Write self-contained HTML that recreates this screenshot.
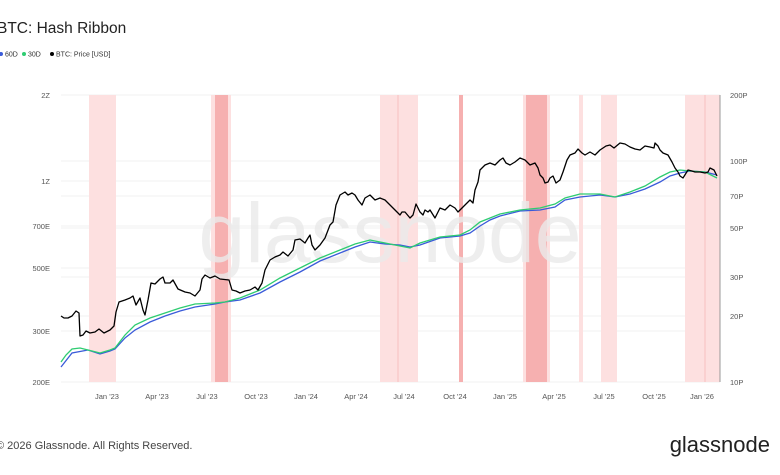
<!DOCTYPE html>
<html><head><meta charset="utf-8"><style>
body{margin:0;width:780px;height:470px;background:#fff;overflow:hidden;font-family:"Liberation Sans",sans-serif}
</style></head><body>
<svg width="780" height="470" xmlns="http://www.w3.org/2000/svg" font-family="Liberation Sans, sans-serif">
<text x="-3" y="33" font-size="15.5" fill="#222">BTC: Hash Ribbon</text>
<g font-size="7" fill="#333">
<circle cx="1" cy="54" r="2" fill="#3a5bd9"/><text x="5" y="56.5">60D</text>
<circle cx="24" cy="54" r="2" fill="#2ecc71"/><text x="28" y="56.5">30D</text>
<circle cx="52" cy="54" r="2" fill="#000"/><text x="56" y="56.5">BTC: Price [USD]</text>
</g>
<g stroke="#f0f0f0" stroke-width="1">
<line x1="61" x2="720" y1="95" y2="95"/><line x1="61" x2="720" y1="161" y2="161"/><line x1="61" x2="720" y1="181" y2="181"/><line x1="61" x2="720" y1="196" y2="196"/><line x1="61" x2="720" y1="226" y2="226"/><line x1="61" x2="720" y1="228" y2="228"/><line x1="61" x2="720" y1="268" y2="268"/><line x1="61" x2="720" y1="277" y2="277"/><line x1="61" x2="720" y1="316" y2="316"/><line x1="61" x2="720" y1="331" y2="331"/><line x1="61" x2="720" y1="382" y2="382"/>
</g>
<g fill="#fde0e0">
<rect x="89" y="95" width="27" height="287"/>
<rect x="380" y="95" width="38" height="287"/>
<rect x="523" y="95" width="27" height="287"/>
<rect x="579" y="95" width="4" height="287"/>
<rect x="601" y="95" width="16" height="287"/>
<rect x="685" y="95" width="35" height="287"/>
<rect x="211" y="95" width="20" height="287"/>
</g>
<g fill="#f6b0b0">
<rect x="215" y="95" width="13" height="287"/>
<rect x="459" y="95" width="4" height="287"/>
<rect x="526" y="95" width="21" height="287"/>
</g>
<g stroke="#f4b8b8" stroke-width="0.8"><line x1="398" x2="398" y1="95" y2="382"/><line x1="705" x2="705" y1="95" y2="382"/></g>
<text x="390" y="262" font-size="84" fill="#ebebeb" text-anchor="middle" opacity="0.8">glassnode</text>
<line x1="720" x2="720" y1="95" y2="382" stroke="#999" stroke-width="1"/>
<g font-size="7.5" fill="#555" text-anchor="end">
<text x="50" y="98">2Z</text><text x="50" y="184">1Z</text><text x="50" y="229">700E</text><text x="50" y="271">500E</text><text x="50" y="334">300E</text><text x="50" y="385">200E</text>
</g>
<g font-size="7.5" fill="#555">
<text x="730" y="98">200P</text><text x="730" y="164">100P</text><text x="730" y="199">70P</text><text x="730" y="231">50P</text><text x="730" y="280">30P</text><text x="730" y="319">20P</text><text x="730" y="385">10P</text>
</g>
<g font-size="7.5" fill="#555" text-anchor="middle">
<text x="107" y="399">Jan '23</text><text x="157" y="399">Apr '23</text><text x="207" y="399">Jul '23</text><text x="256" y="399">Oct '23</text><text x="306" y="399">Jan '24</text><text x="356" y="399">Apr '24</text><text x="404" y="399">Jul '24</text><text x="455" y="399">Oct '24</text><text x="505" y="399">Jan '25</text><text x="554" y="399">Apr '25</text><text x="604" y="399">Jul '25</text><text x="654" y="399">Oct '25</text><text x="702" y="399">Jan '26</text>
</g>
<polyline fill="none" stroke="#3a5bd9" stroke-width="1.3" points="61,367 72,353 88,350 100,354 110,351 115,349 125,338 135,330 150,322 165,316 180,311 195,307 215,304 225,302 240,300 260,293 280,282 300,272 320,261 340,253 355,247 370,242 385,244 400,245 410,247 420,245 440,238 460,236 470,233 480,226 490,220 500,216 520,211 540,210 555,207 565,200 580,197 600,195 615,197 630,194 645,189 660,182 670,176 680,173 690,171 705,172 717,175"/>
<polyline fill="none" stroke="#2ecc71" stroke-width="1.3" points="61,362 66,355 72,349 80,348 88,350 100,353 110,350 115,348 125,335 135,325 150,318 165,313 180,308 195,304 215,303 225,302 240,298 260,290 280,278 300,268 320,258 340,250 355,244 370,240 385,243 400,246 410,248 420,243 440,237 460,235 470,230 480,222 490,218 500,214 520,210 540,208 555,204 565,198 580,194 600,194 615,197 630,192 645,186 660,177 670,172 680,170 690,171 705,172 717,178"/>
<polyline fill="none" stroke="#000" stroke-width="1.3" stroke-linejoin="round" points="61,316 64,318 68,318 72,316 76,311 79,313 80,336 83,335 86,331 90,333 95,332 99,329 104,333 110,330 114,326 116,312 119,302 125,300 130,298 133,296 136,305 140,298 143,310 145,315 148,300 151,283 155,284 160,279 163,277 165,283 170,283 173,280 178,289 185,292 190,293 195,296 200,290 202,279 205,275 210,278 215,276 220,279 229,280 232,290 236,291 240,293 245,291 250,290 255,287 258,290 262,283 265,270 270,260 275,257 280,255 283,252 288,256 293,250 295,240 300,239 305,243 308,238 310,235 312,245 315,250 320,245 325,238 330,225 333,222 336,205 340,195 345,192 348,195 352,193 355,195 358,200 362,205 365,198 370,195 375,200 380,198 385,200 390,205 395,210 400,215 402,212 405,212 410,218 413,215 416,204 420,212 423,215 425,210 428,212 430,210 435,218 440,208 445,210 450,205 455,208 458,212 460,210 465,205 470,200 473,203 475,190 478,182 480,170 485,165 490,163 495,165 500,160 503,158 506,163 510,165 515,162 520,158 525,160 530,165 535,163 538,168 540,175 543,178 545,183 548,182 550,178 553,176 556,183 560,180 563,172 567,160 570,155 575,153 578,149 582,153 585,155 590,152 595,155 600,150 606,146 610,145 614,148 620,143 625,144 630,147 635,149 640,150 645,146 650,147 654,148 655,143 658,146 660,150 663,153 668,155 672,162 675,168 678,172 680,176 683,178 688,170 692,171 695,172 700,172 705,173 708,172 710,168 714,170 717,176"/>
<text x="-4" y="449" font-size="11" fill="#444">© 2026 Glassnode. All Rights Reserved.</text>
<text x="770" y="452" font-size="22" fill="#222" text-anchor="end">glassnode</text>
</svg>
</body></html>
